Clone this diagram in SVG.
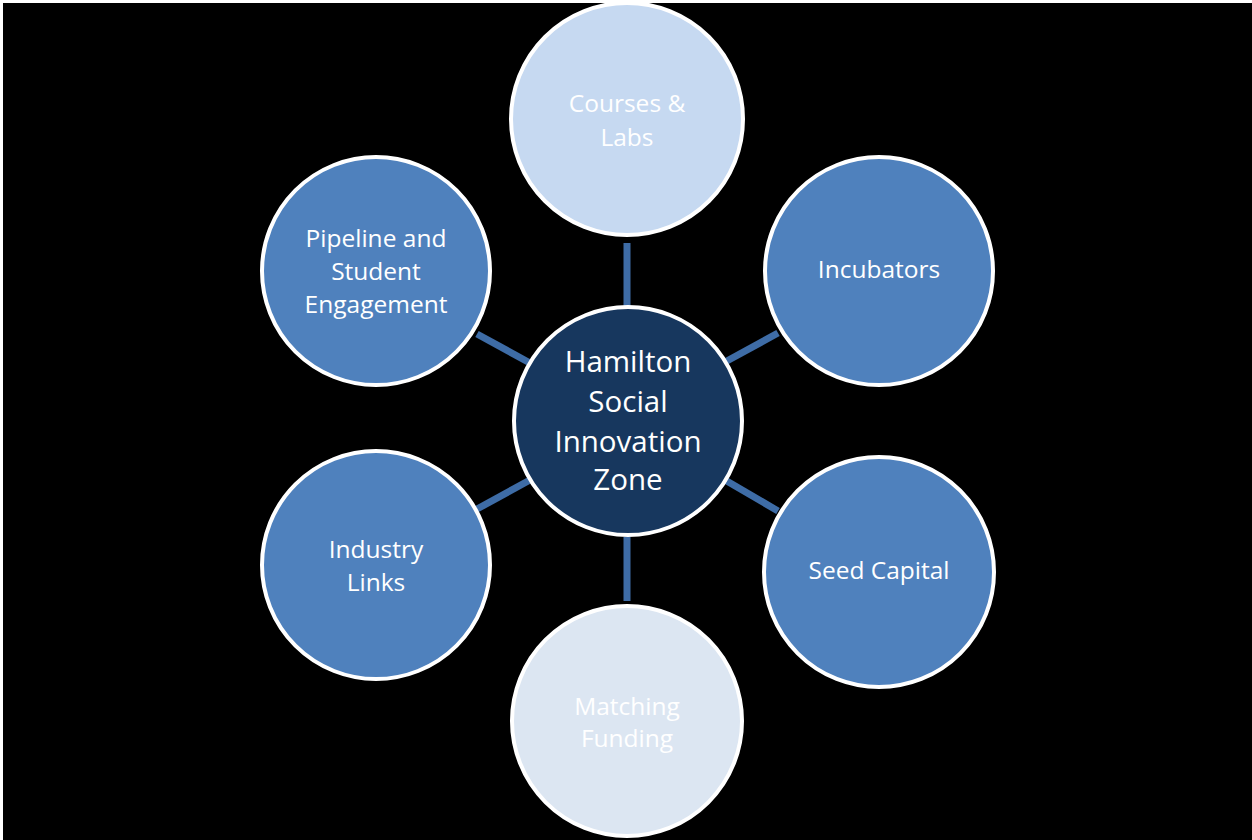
<svg xmlns="http://www.w3.org/2000/svg" width="1252" height="840" viewBox="0 0 1252 840">
<style>
.node{stroke:#ffffff;stroke-width:4}
.mid{fill:#4F81BD}
.lbl{font-family:"Open Sans","Liberation Sans",sans-serif;font-size:24.5px;fill:#ffffff;text-anchor:middle}
.ctr{font-size:29.5px}
.conn line{stroke:#3E6CA6;stroke-width:7}
</style>
<rect x="0" y="0" width="1252" height="840" fill="#ffffff"/>
<rect x="3" y="3" width="1249" height="837" fill="#000000"/>
<g class="conn" id="connectors">
<line x1="627" y1="243" x2="627" y2="306"/>
<line x1="627" y1="537" x2="627" y2="601"/>
<line x1="477" y1="334" x2="530" y2="363"/>
<line x1="477" y1="509" x2="530" y2="480"/>
<line x1="725" y1="362" x2="778" y2="333"/>
<line x1="725" y1="480" x2="778" y2="511"/>
</g>
<g id="courses">
<circle class="node" cx="627" cy="119" r="116" fill="#C6D9F1"/>
<text class="lbl" x="627" y="112">Courses &amp;</text>
<text class="lbl" x="627" y="146">Labs</text>
</g>
<g id="pipeline">
<circle class="node mid" cx="376" cy="271" r="114"/>
<text class="lbl" x="376" y="247">Pipeline and</text>
<text class="lbl" x="376" y="280">Student</text>
<text class="lbl" x="376" y="313">Engagement</text>
</g>
<g id="incubators">
<circle class="node mid" cx="879" cy="271" r="114"/>
<text class="lbl" x="879" y="278">Incubators</text>
</g>
<g id="industry">
<circle class="node mid" cx="376" cy="565" r="114"/>
<text class="lbl" x="376" y="558">Industry</text>
<text class="lbl" x="376" y="591">Links</text>
</g>
<g id="seed">
<circle class="node mid" cx="879" cy="572" r="115"/>
<text class="lbl" x="879" y="579">Seed Capital</text>
</g>
<g id="matching">
<circle class="node" cx="627" cy="721" r="115" fill="#DCE6F2"/>
<text class="lbl" x="627" y="715">Matching</text>
<text class="lbl" x="627" y="747">Funding</text>
</g>
<g id="center">
<circle class="node" cx="628" cy="421" r="114" fill="#17375E"/>
<text class="lbl ctr" x="628" y="372">Hamilton</text>
<text class="lbl ctr" x="628" y="412">Social</text>
<text class="lbl ctr" x="628" y="452">Innovation</text>
<text class="lbl ctr" x="628" y="490">Zone</text>
</g>
</svg>
